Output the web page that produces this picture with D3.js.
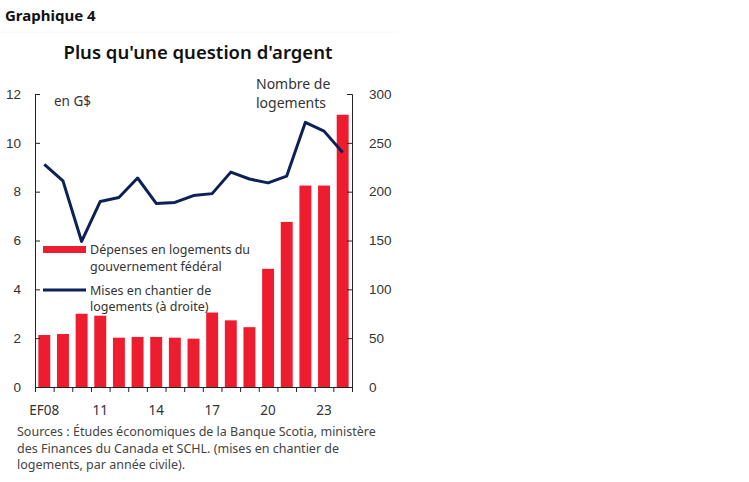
<!DOCTYPE html>
<html>
<head>
<meta charset="utf-8">
<script src="https://cdn.jsdelivr.net/npm/d3@7"></script>
<style>
  body { margin: 0; background: #fff; }
  svg { font-family: "Noto Sans", "Open Sans", sans-serif; }
  .tick text { fill: #333; font-size: 13.5px; }
  .domain, .tick line { stroke: #222; }
</style>
</head>
<body>
<div id="chart"></div>
<script>
// fiscal years (EF08 .. EF24)
const years = ['EF08', '09', '10', '11', '12', '13', '14', '15', '16', '17', '18', '19', '20', '21', '22', '23', '24'];
const tickYears = ['EF08', '11', '14', '17', '20', '23'];
// federal housing spending, billions $
const spending = [2.13, 2.17, 3.0, 2.92, 2.02, 2.05, 2.05, 2.02, 1.98, 3.05, 2.73, 2.45, 4.84, 6.76, 8.25, 8.25, 11.15];
// housing starts, thousands (right axis)
const starts = [228, 211, 149, 190, 194, 214, 188, 189, 196, 198, 220, 213, 209, 216, 271, 262, 240];

const leftTicks = [0, 2, 4, 6, 8, 10, 12];
const rightTicks = [0, 50, 100, 150, 200, 250, 300];

const W = 749, H = 482;
const x0 = 35, x1 = 352, yTop = 94, yBot = 387;

const svg = d3.select('#chart').append('svg')
  .attr('width', W)
  .attr('height', H);

// faint frame line under the chart number
svg.append('line')
  .attr('x1', 0).attr('x2', 398)
  .attr('y1', 32).attr('y2', 32)
  .attr('stroke', '#f6f6f6');

svg.append('text')
  .attr('x', 5).attr('y', 21)
  .attr('font-size', 15)
  .attr('font-weight', 700)
  .attr('fill', '#111')
  .text('Graphique 4');

svg.append('text')
  .attr('x', 198).attr('y', 59)
  .attr('text-anchor', 'middle')
  .attr('font-size', 18.5)
  .attr('font-weight', 600)
  .attr('fill', '#111')
  .text("Plus qu'une question d'argent");

// scales
const xscale = d3.scaleBand().domain(years).range([x0, x1]).paddingInner(0.36).paddingOuter(0.18);
const yleft = d3.scaleLinear().domain([0, 12]).range([yBot, yTop]);
const yright = d3.scaleLinear().domain([0, 300]).range([yBot, yTop]);

// bars
svg.selectAll('.bar')
  .data(spending)
  .enter()
  .append('rect')
  .attr('class', 'bar')
  .attr('x', (d, i) => xscale(years[i]))
  .attr('y', d => yleft(d))
  .attr('width', xscale.bandwidth())
  .attr('height', d => yBot - yleft(d))
  .attr('fill', '#ed1c2e');

// line
const line = d3.line()
  .x((d, i) => xscale(years[i]) + xscale.bandwidth() / 2)
  .y(d => yright(d));

svg.append('path')
  .datum(starts)
  .attr('d', line)
  .attr('fill', 'none')
  .attr('stroke', '#0c2157')
  .attr('stroke-width', 3)
  .attr('stroke-linejoin', 'round');

// axes
const leftAxis = d3.axisRight(yleft).tickValues(leftTicks).tickSize(5);
svg.append('g')
  .attr('transform', `translate(${x0},0)`)
  .call(leftAxis)
  .call(g => g.selectAll('.tick text').attr('text-anchor', 'end').attr('x', -14));

const rightAxis = d3.axisLeft(yright).tickValues(rightTicks).tickSize(5);
svg.append('g')
  .attr('transform', `translate(${x1},0)`)
  .call(rightAxis)
  .call(g => g.selectAll('.tick text').attr('text-anchor', 'start').attr('x', 17));

const bottomScale = d3.scaleLinear().domain([0, years.length]).range([x0, x1]);
svg.append('g')
  .attr('transform', `translate(0,${yBot})`)
  .call(d3.axisBottom(bottomScale).tickValues(d3.range(0, years.length + 1)).tickSize(5).tickFormat(''));

svg.selectAll('.xlab')
  .data(tickYears)
  .enter()
  .append('text')
  .attr('class', 'xlab')
  .attr('x', d => xscale(d) + xscale.bandwidth() / 2)
  .attr('y', 415)
  .attr('text-anchor', 'middle')
  .attr('font-size', 13.5)
  .attr('fill', '#333')
  .text(d => d);

// axis unit labels
svg.append('text')
  .attr('x', 54).attr('y', 106)
  .attr('font-size', 13.5).attr('fill', '#333')
  .text('en G$');

svg.append('text')
  .attr('x', 256).attr('y', 89)
  .attr('font-size', 14).attr('fill', '#333')
  .text('Nombre de');
svg.append('text')
  .attr('x', 256).attr('y', 108)
  .attr('font-size', 14).attr('fill', '#333')
  .text('logements');

// legend
svg.append('rect')
  .attr('x', 43).attr('y', 246)
  .attr('width', 43).attr('height', 7)
  .attr('fill', '#ed1c2e');
svg.append('text')
  .attr('x', 90).attr('y', 254)
  .attr('font-size', 12.5).attr('fill', '#333')
  .text('Dépenses en logements du');
svg.append('text')
  .attr('x', 90).attr('y', 271)
  .attr('font-size', 12.5).attr('fill', '#333')
  .text('gouvernement fédéral');

svg.append('line')
  .attr('x1', 43).attr('x2', 86)
  .attr('y1', 290).attr('y2', 290)
  .attr('stroke', '#0c2157')
  .attr('stroke-width', 3);
svg.append('text')
  .attr('x', 90).attr('y', 295)
  .attr('font-size', 12.5).attr('fill', '#333')
  .text('Mises en chantier de');
svg.append('text')
  .attr('x', 90).attr('y', 311)
  .attr('font-size', 12.5).attr('fill', '#333')
  .text('logements (à droite)');

// sources
const sources = [
  'Sources : Études économiques de la Banque Scotia, ministère',
  'des Finances du Canada et SCHL. (mises en chantier de',
  'logements, par année civile).'
];
svg.selectAll('.src')
  .data(sources)
  .enter()
  .append('text')
  .attr('class', 'src')
  .attr('x', 17)
  .attr('y', (d, i) => 436 + i * 16.5)
  .attr('font-size', 12.5)
  .attr('fill', '#444')
  .text(d => d);
</script>
</body>
</html>
